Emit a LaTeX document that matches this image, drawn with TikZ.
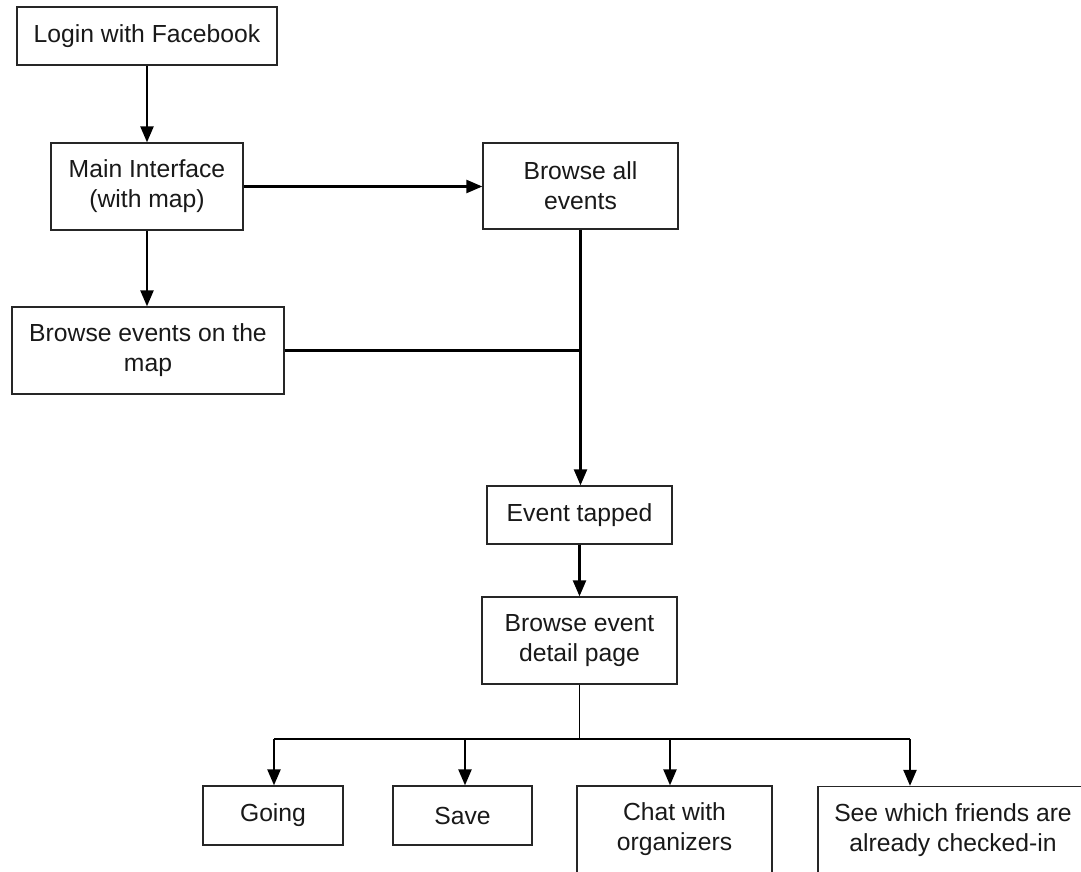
\documentclass[tikz,border=0pt]{standalone}
\usepackage{fontspec}
\setmainfont{Liberation Sans}
\usetikzlibrary{arrows.meta}
\begin{document}
\begin{tikzpicture}[x=1pt,y=-1pt,
  box/.style={draw=black!85,line width=1.3pt,fill=white,inner sep=0pt,
    align=center,text=black!90,font=\fontsize{24.7}{30}\selectfont},
  flow/.style={line width=2.3pt,draw=black,-{Triangle[width=13pt,length=16pt]}},
  link/.style={line width=2.3pt,draw=black},
  thin/.style={line width=1.1pt,draw=black}]
\clip (0,0) rectangle (1081,872);
\fill[white] (0,0) rectangle (1081,872);

% upper part of the flow
\node[box,minimum width=260,minimum height=58] (login) at (147,36) {Login with Facebook};
\node[box,minimum width=192,minimum height=87] (main) at (147,186.5) {Main Interface\\(with map)};
\node[box,minimum width=195,minimum height=86] (all) at (580.5,186) {Browse all\\events};
\node[box,minimum width=272,minimum height=87] (map) at (148,350.5) {Browse events on the\\map};

% event page
\node[box,minimum width=185,minimum height=58] (tapped) at (579.5,515) {Event tapped};
\node[box,minimum width=195,minimum height=87] (detail) at (579.5,640.5) {Browse event\\detail page};

% actions
\node[box,minimum width=140,minimum height=59] (going) at (273,815.5) {Going};
\node[box,minimum width=139,minimum height=59] (save) at (462.5,815.5) {Save};
\node[box,minimum width=195,minimum height=87] (chat) at (674.5,829.5) {Chat with\\organizers};
\node[box,minimum width=270,minimum height=87] (friends) at (953,830) {See which friends are\\already checked-in};

% connectors
\draw[flow] (login.south) -- (login.south |- main.north);
\draw[flow] (main.east) -- (main.east -| all.west);
\draw[flow] (main.south) -- (main.south |- map.north);
\draw[link] (map.east) -- (map.east -| all.south);
\draw[flow] (all.south) -- (all.south |- tapped.north);
\draw[flow] (tapped.south) -- (detail.north);

\coordinate (bar) at (579.5,739);
\coordinate (tG) at ([xshift=1pt]going.north);
\coordinate (tS) at ([xshift=2.5pt]save.north);
\coordinate (tC) at ([xshift=-4.5pt]chat.north);
\coordinate (tF) at ([xshift=-43pt]friends.north);

\draw[thin] (detail.south) -- (bar);
\draw[link] (bar -| tG) -- (bar -| tF);
\draw[flow] (bar -| tG) -- (tG);
\draw[flow] (bar -| tS) -- (tS);
\draw[flow] (bar -| tC) -- (tC);
\draw[flow] (bar -| tF) -- (tF);
\end{tikzpicture}
\end{document}
